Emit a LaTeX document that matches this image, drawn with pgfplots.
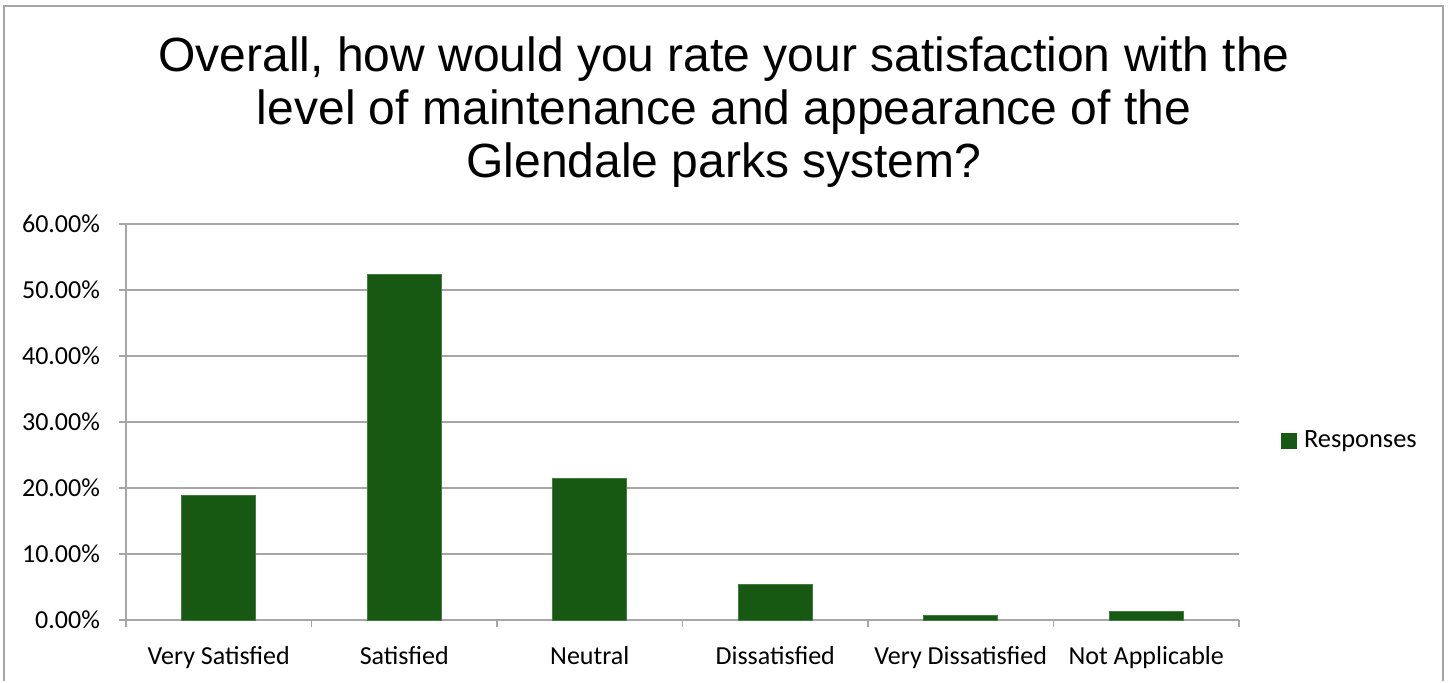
\documentclass[border=0pt]{standalone}
\usepackage{pgfplots}
\pgfplotsset{compat=1.18}
\usepackage{fontspec}
\setmainfont{Carlito}
\newfontfamily\titlefont{Liberation Sans}
\definecolor{barg}{RGB}{23,89,19}
\definecolor{gridc}{RGB}{166,166,166}
\begin{document}
\begin{tikzpicture}
\begin{axis}[
  scale only axis,
  width=556.5pt, height=198pt,
  ymin=0, ymax=60, ytick={0,10,20,30,40,50,60},
  yticklabels={0.00\%,10.00\%,20.00\%,30.00\%,40.00\%,50.00\%,60.00\%},
  xmin=-0.5, xmax=5.5, xtick={0,1,2,3,4,5},
  xticklabels={Very Satisfied,Satisfied,Neutral,Dissatisfied,Very Dissatisfied,Not Applicable},
  minor xtick={-0.5,0.5,1.5,2.5,3.5,4.5,5.5},
  major x tick style={draw=none},
  tick align=outside, major tick length=3.5pt, minor tick length=3.5pt,
  tick style={gridc, line width=0.75pt},
  ymajorgrids, grid style={gridc, line width=0.75pt},
  axis x line*=bottom, axis y line*=left,
  axis line style={gridc, line width=0.75pt, -},
  ticklabel style={font=\fontsize{13}{15}\selectfont, text=black},
  xticklabel style={yshift=-6pt},
  yticklabel style={xshift=-6pt},
  ybar, bar width=37pt,
  legend style={at={(1,0.5)}, anchor=west, xshift=21pt, yshift=-9.5pt, draw=none, fill=none,
    font=\fontsize{13.2}{15}\selectfont, inner sep=0pt,
    /tikz/every even column/.append style={column sep=0pt}},
  legend image code/.code={\fill[barg] (0pt,-3.75pt) rectangle (7.5pt,3.75pt);},
]
\addplot[fill=barg, draw=barg!80!white, line width=0.3pt] coordinates {(0,18.9) (1,52.4) (2,21.5) (3,5.4) (4,0.7) (5,1.35)};
\addlegendentry{\hspace{1.5pt}Responses}
\coordinate (O) at (rel axis cs:0,0);
\end{axis}
\begin{scope}[shift={(O)}, x=1pt, y=1pt]
\path (-63,-30.5) rectangle (662,310);
\draw[gridc, line width=1pt] (-61,-30.5) -- (-61,307) -- (658.5,307) -- (658.5,-30.5);
\node[font=\titlefont\fontsize{24}{28}\selectfont, anchor=base] at (299,274.5) {Overall, how would you rate your satisfaction with the};
\node[font=\titlefont\fontsize{24}{28}\selectfont, anchor=base] at (299,248) {level of maintenance and appearance of the};
\node[font=\titlefont\fontsize{24}{28}\selectfont, anchor=base] at (299,221.5) {Glendale parks system?};
\end{scope}
\end{tikzpicture}
\end{document}
